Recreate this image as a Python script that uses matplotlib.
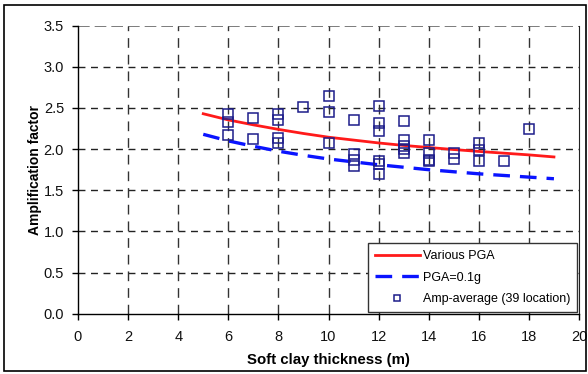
import matplotlib
matplotlib.use("Agg")
import matplotlib.pyplot as plt
from matplotlib.patches import Rectangle

# Data
obs_x = [6, 6, 6,
         7, 7,
         8, 8, 8, 8,
         9,
         10, 10, 10,
         11, 11, 11, 11,
         12, 12, 12, 12, 12, 12,
         13, 13, 13, 13, 13,
         14, 14, 14, 14,
         15, 15,
         16, 16, 16,
         17,
         18]
obs_y = [2.43, 2.33, 2.17,
         2.38, 2.12,
         2.43, 2.36, 2.14, 2.07,
         2.51,
         2.65, 2.45, 2.07,
         2.35, 1.94, 1.87, 1.79,
         2.52, 2.32, 2.22, 1.86, 1.82, 1.70,
         2.34, 2.11, 2.04, 2.00, 1.95,
         2.11, 1.95, 1.87, 1.85,
         1.95, 1.88,
         2.08, 1.99, 1.86,
         1.85,
         2.24]

curve_x = [5, 6, 7, 8, 9, 10, 11, 12, 13, 14, 15, 16, 17, 18, 19]
various_pga = [2.43, 2.355, 2.295, 2.24, 2.19, 2.145, 2.11, 2.075, 2.045, 2.02, 1.995, 1.972, 1.951, 1.93, 1.905]
pga_01g = [2.18, 2.10, 2.035, 1.975, 1.925, 1.88, 1.845, 1.81, 1.78, 1.75, 1.725, 1.70, 1.68, 1.66, 1.64]

xticks = [0, 2, 4, 6, 8, 10, 12, 14, 16, 18, 20]
yticks = [0.0, 0.5, 1.0, 1.5, 2.0, 2.5, 3.0, 3.5]

plt.rcParams['font.family'] = ['Liberation Sans', 'DejaVu Sans']

fig = plt.figure(figsize=(5.88, 3.74), dpi=100)
ax = fig.add_axes([78/588, 1 - 313.7/374, (579-78)/588, (313.7-25.7)/374])

# Grid
for yv in yticks[1:]:
    if yv == 3.5:
        ax.axhline(yv, color='#666666', lw=1.2, dashes=(7, 3), zorder=1)
    else:
        ax.axhline(yv, color='#222222', lw=1.0, dashes=(5, 4), zorder=1)
for xv in xticks[1:-1]:
    ax.axvline(xv, color='#333333', lw=1.0, dashes=(7, 5), zorder=1)

ax.plot(curve_x, various_pga, color='#ff1a1a', lw=2.0, label='Various PGA', zorder=3)
ax.plot(curve_x, pga_01g, color='#0a14ff', lw=2.4, dashes=(5, 3), label='PGA=0.1g', zorder=3)
ax.plot(obs_x, obs_y, linestyle='none', marker='s', markersize=7, markerfacecolor='none',
        markeredgecolor='#1c1c8a', markeredgewidth=1.1, label='Amp-average (39 location)', zorder=4)

ax.set_xlim(0, 20)
ax.set_ylim(0, 3.5)
ax.set_xticks(xticks)
ax.set_yticks(yticks)
ax.set_yticklabels([f"{v:.1f}" for v in yticks])
ax.tick_params(axis='both', direction='out', length=4, width=1, labelsize=10.5,
               colors='black', labelcolor='#111111')
ax.tick_params(axis='x', pad=8)
ax.tick_params(axis='y', pad=6)
ax.spines['top'].set_visible(False)
ax.spines['right'].set_color('#222222')
for s in ['left', 'bottom']:
    ax.spines[s].set_linewidth(1.0)
    ax.spines[s].set_color('black')

ax.set_xlabel('Soft clay thickness (m)', fontsize=10.8, fontweight='bold', labelpad=6)
ax.set_ylabel('Amplification factor', fontsize=10, fontweight='bold', labelpad=1.5)

leg = ax.legend(loc='lower right', bbox_to_anchor=(1.0, 0.0), fontsize=9, frameon=True,
                fancybox=False, shadow=False, edgecolor='#333333', framealpha=1,
                handlelength=3.6, markerscale=0.6, borderpad=0.55, labelspacing=0.75,
                handletextpad=0.25, borderaxespad=0.15)
leg.get_frame().set_linewidth(1.0)

# Figure border
fig.patches.append(Rectangle((4/588, 1 - 371/374), (586-4)/588, (371-5)/374,
                             transform=fig.transFigure, fill=False, edgecolor='black', lw=1.2))

fig.savefig('out.png', dpi=100)
